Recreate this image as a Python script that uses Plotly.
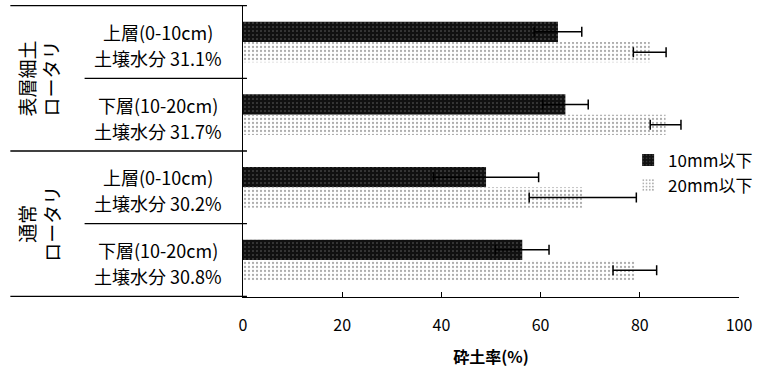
import plotly.graph_objects as go

# ---- data ----
cat_line1 = ["上層(0-10cm)", "下層(10-20cm)", "上層(0-10cm)", "下層(10-20cm)"]
cat_line2 = ["土壌水分 31.1%", "土壌水分 31.7%", "土壌水分 30.2%", "土壌水分 30.8%"]
cat_ids = ["c1", "c2", "c3", "c4"]
groups = ["表層細土<br>ロータリ", "通常<br>ロータリ"]
series_names = ["10mm以下", "20mm以下"]
vals_10mm = [63.5, 65.0, 49.0, 56.3]
err_10mm = [4.8, 4.6, 10.6, 5.4]
vals_20mm = [82.0, 85.2, 68.5, 79.0]
err_20mm = [3.3, 3.1, 10.8, 4.4]
x_ticks = [0, 20, 40, 60, 80, 100]
x_title = "砕土率(%)"

FONT = "Noto Sans CJK JP"

fig = go.Figure()
fig.add_trace(go.Bar(
    y=cat_ids, x=vals_10mm, orientation="h", name=series_names[0],
    marker=dict(color="#111111", line=dict(width=0),
                pattern=dict(shape=".", fgcolor="#bbbbbb", bgcolor="#111111",
                             size=4, solidity=0.12)),
    error_x=dict(type="data", array=err_10mm, color="black", thickness=1.5, width=5),
))
fig.add_trace(go.Bar(
    y=cat_ids, x=vals_20mm, orientation="h", name=series_names[1],
    marker=dict(color="#ffffff", line=dict(width=0),
                pattern=dict(shape=".", fgcolor="#5a5a5a", bgcolor="#ffffff",
                             size=4, solidity=0.25)),
    error_x=dict(type="data", array=err_20mm, color="black", thickness=1.5, width=5),
))

PW = 501.0  # plot width in px
def px(xpix):
    return (xpix - 243) / PW

shapes = []
for yv in [-0.5, 1.5, 3.5]:
    shapes.append(dict(type="line", xref="paper", yref="y", x0=px(8), x1=px(247),
                       y0=yv, y1=yv, line=dict(color="black", width=1.3)))
for yv in [0.5, 2.5]:
    shapes.append(dict(type="line", xref="paper", yref="y", x0=px(83), x1=px(247),
                       y0=yv, y1=yv, line=dict(color="black", width=1.3)))

annotations = []
for i in range(len(cat_ids)):
    for txt, shift in ((cat_line1[i], 10), (cat_line2[i], -16)):
        annotations.append(dict(text=txt, xref="paper", yref="y", x=px(157), y=i,
                                yshift=shift, showarrow=False, align="center",
                                xanchor="center", yanchor="middle",
                                font=dict(family=FONT, size=18, color="black")))
for gi, g in enumerate(groups):
    annotations.append(dict(text=g, xref="paper", yref="y", x=px(37), y=gi * 2 + 0.5,
                            showarrow=False, textangle=-90, align="center",
                            xanchor="center", yanchor="middle",
                            font=dict(family=FONT, size=19, color="black")))

fig.update_layout(
    width=763, height=373,
    margin=dict(l=243, r=19, t=5, b=76),
    paper_bgcolor="white", plot_bgcolor="white",
    barmode="group", bargap=0.44, bargroupgap=0,
    font=dict(family=FONT, color="black"),
    showlegend=True,
    legend=dict(x=px(632), y=0.425, xanchor="left", yanchor="middle",
                font=dict(family=FONT, size=17, color="black"),
                bgcolor="rgba(0,0,0,0)", tracegroupgap=0, itemwidth=30,
                traceorder="normal"),
    shapes=shapes, annotations=annotations,
)
fig.update_xaxes(range=[0, 100], tickvals=x_ticks, ticks="inside", ticklen=5,
                 tickcolor="black", showline=True, linecolor="black", linewidth=1.3,
                 showgrid=False, zeroline=False, ticklabelstandoff=14,
                 tickfont=dict(family=FONT, size=16, color="black"),
                 title=dict(text="<b>" + x_title + "</b>", standoff=16,
                            font=dict(family=FONT, size=16, color="black")))
fig.update_yaxes(categoryorder="array", categoryarray=cat_ids, autorange="reversed",
                 showticklabels=False, ticks="", showline=True, linecolor="black",
                 linewidth=1.3, showgrid=False, zeroline=False)

fig.write_html("out.html", config={"displayModeBar": False},
               post_script="document.body.style.margin='0';")
